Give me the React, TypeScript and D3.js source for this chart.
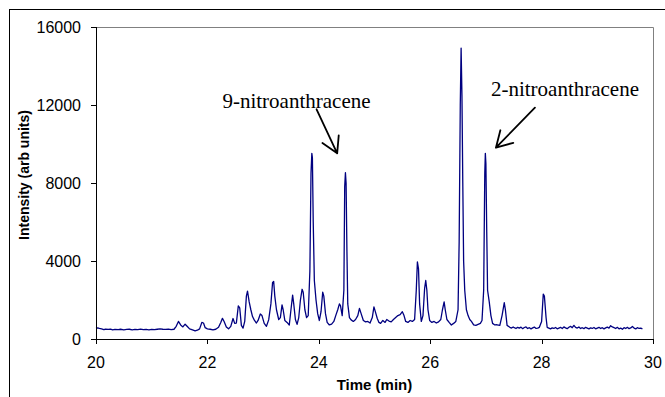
import React from "react";
import * as d3 from "d3";

// Chromatogram: [retention time (min), intensity (arb units)]
const chromatogram: [number, number][] = [
  [20.0, 540], [20.03, 570], [20.06, 540], [20.1, 520], [20.14, 480], [20.17, 500], [20.22, 490],
  [20.26, 510], [20.3, 470], [20.34, 495], [20.4, 480], [20.44, 500], [20.5, 470], [20.55, 490],
  [20.6, 500], [20.65, 470], [20.7, 490], [20.75, 480], [20.8, 505], [20.85, 480], [20.9, 490],
  [20.95, 470], [21.0, 495], [21.05, 480], [21.1, 500], [21.15, 520], [21.2, 500], [21.25, 490],
  [21.3, 510], [21.35, 480], [21.4, 500],
  [21.44, 650], [21.48, 900], [21.52, 720], [21.56, 620], [21.6, 760], [21.64, 640], [21.68, 520],
  [21.72, 480], [21.78, 420], [21.82, 450], [21.86, 520], [21.9, 850], [21.93, 820], [21.96, 580],
  [22.0, 520], [22.05, 500], [22.1, 470], [22.15, 500], [22.2, 600], [22.24, 850], [22.27, 1060],
  [22.3, 900], [22.34, 620], [22.38, 520], [22.42, 650], [22.46, 1050], [22.49, 800], [22.52, 820],
  [22.555, 1700], [22.58, 1600], [22.61, 700], [22.64, 560], [22.67, 900], [22.7, 2200], [22.72, 2450],
  [22.75, 1900], [22.78, 1500], [22.81, 1150], [22.84, 980], [22.88, 820], [22.91, 950], [22.95, 1280],
  [22.98, 1200], [23.02, 800], [23.06, 650], [23.1, 980], [23.14, 1800], [23.17, 2900], [23.19, 2950],
  [23.21, 2200], [23.24, 1500], [23.28, 1000], [23.31, 1100], [23.34, 1750], [23.36, 1500], [23.39, 950],
  [23.43, 850], [23.47, 720], [23.5, 1500], [23.53, 2250], [23.55, 1800], [23.58, 1000], [23.61, 750],
  [23.64, 1100], [23.67, 2000], [23.7, 2550], [23.72, 2400], [23.75, 1500], [23.78, 1100], [23.81, 1200],
  [23.84, 3500], [23.86, 8500], [23.875, 9520], [23.885, 9300], [23.9, 6000], [23.92, 3000], [23.95, 2000],
  [23.98, 1300], [24.01, 950], [24.04, 1400], [24.07, 2400], [24.09, 2200], [24.12, 1300], [24.15, 850],
  [24.19, 720], [24.23, 760], [24.27, 900], [24.31, 1250], [24.34, 1500], [24.37, 1800], [24.39, 1700],
  [24.42, 1200], [24.45, 2500], [24.465, 7800], [24.478, 8530], [24.49, 8000], [24.505, 4500], [24.52, 1800],
  [24.55, 1100], [24.58, 980], [24.62, 900], [24.66, 1000], [24.7, 1200], [24.73, 1570], [24.76, 1300],
  [24.8, 950], [24.84, 880], [24.88, 900], [24.92, 820], [24.96, 1100], [24.99, 1650], [25.02, 1350],
  [25.05, 1050], [25.08, 850], [25.11, 800], [25.15, 950], [25.19, 850], [25.22, 1000], [25.26, 920],
  [25.3, 880], [25.34, 1000], [25.38, 1100], [25.42, 1200], [25.46, 1250], [25.5, 1400], [25.53, 1200],
  [25.56, 900], [25.6, 850], [25.64, 950], [25.68, 900], [25.72, 1000], [25.75, 2500], [25.77, 3950],
  [25.79, 3600], [25.81, 1800], [25.84, 900], [25.87, 1200], [25.9, 2600], [25.92, 3000], [25.94, 2500],
  [25.96, 1500], [25.99, 950], [26.03, 850], [26.07, 900], [26.11, 820], [26.15, 880], [26.19, 1000],
  [26.22, 1500], [26.25, 1900], [26.27, 1500], [26.3, 1000], [26.34, 850], [26.38, 720], [26.42, 800],
  [26.46, 900], [26.5, 1500], [26.52, 5000], [26.54, 12000], [26.555, 14920], [26.57, 12500], [26.585, 8000],
  [26.6, 4000], [26.62, 2500], [26.65, 1500], [26.68, 1200], [26.71, 1000], [26.74, 900], [26.78, 720],
  [26.82, 700], [26.86, 750], [26.9, 800], [26.93, 950], [26.96, 2500], [26.98, 8500], [26.99, 9520],
  [27.0, 9000], [27.015, 5500], [27.03, 2500], [27.06, 1900], [27.09, 1200], [27.12, 800], [27.16, 720],
  [27.2, 730], [27.25, 700], [27.29, 1200], [27.33, 1860], [27.35, 1500], [27.38, 700], [27.41, 640],
  [27.43, 600], [27.46, 560], [27.49, 620], [27.51, 580], [27.54, 540], [27.57, 600], [27.6, 560],
  [27.63, 610], [27.66, 530], [27.69, 590], [27.72, 620], [27.75, 540], [27.78, 580], [27.81, 520],
  [27.84, 570], [27.87, 610], [27.9, 540], [27.93, 560], [27.96, 600], [28.0, 900], [28.03, 2300],
  [28.05, 2200], [28.08, 1100], [28.1, 600], [28.13, 560], [28.16, 520], [28.19, 570], [28.22, 540],
  [28.25, 590], [28.28, 520], [28.31, 560], [28.34, 600], [28.37, 540], [28.4, 620], [28.43, 570],
  [28.46, 530], [28.49, 600], [28.52, 650], [28.55, 580], [28.58, 700], [28.61, 600], [28.64, 560],
  [28.67, 620], [28.7, 540], [28.73, 580], [28.76, 530], [28.79, 600], [28.82, 560], [28.85, 520],
  [28.88, 570], [28.91, 540], [28.94, 590], [28.97, 520], [29.0, 560], [29.03, 600], [29.06, 540],
  [29.09, 580], [29.12, 520], [29.15, 570], [29.18, 610], [29.21, 560], [29.24, 680], [29.27, 620],
  [29.3, 580], [29.33, 540], [29.36, 600], [29.39, 520], [29.42, 560], [29.45, 500], [29.48, 580],
  [29.51, 540], [29.54, 600], [29.57, 530], [29.6, 570], [29.63, 640], [29.66, 560], [29.69, 520],
  [29.72, 580], [29.75, 540], [29.78, 560], [29.81, 520],
];

const xTicks = [20, 22, 24, 26, 28, 30];
const yTicks = [0, 4000, 8000, 12000, 16000];

// Annotation labels: text anchor and arrow (start -> tip) in data units
const annotationLabels = ["9-nitroanthracene", "2-nitroanthracene"];
const annotationTextPos: [number, number][] = [[22.27, 11830], [27.09, 12460]];
const annotationArrowFrom: [number, number][] = [[23.96, 11780], [27.88, 11860]];
const annotationArrowTo: [number, number][] = [[24.33, 9520], [27.18, 9810]];

const W = 665;
const H = 397;
const M = { left: 96, right: 653, top: 27, bottom: 339 };

export default function App() {
  const x = d3.scaleLinear().domain([20, 30]).range([M.left, M.right]);
  const y = d3.scaleLinear().domain([0, 16000]).range([M.bottom, M.top]);
  const line = d3
    .line<[number, number]>()
    .x((d) => x(d[0]))
    .y((d) => y(d[1]));

  const headLen = 18;
  const headAng = Math.PI / 6;

  return (
    <svg
      width={W}
      height={H}
      style={{ position: "absolute", left: 0, top: 0, background: "#fff" }}
    >
      <rect x={0} y={0} width={W} height={H} fill="#fff" />
      {/* outer chart frame */}
      <rect x={9.5} y={9.5} width={W + 20} height={H + 20} fill="none" stroke="#000" strokeWidth={1} />
      {/* plot area border (top/right) */}
      <path
        d={`M${M.left},${M.top + 0.5}H${M.right + 0.5}V${M.bottom}`}
        fill="none"
        stroke="#808080"
        strokeWidth={1}
      />
      {/* trace */}
      <path d={line(chromatogram) || ""} fill="none" stroke="#000080" strokeWidth={1.3} strokeLinejoin="round" />
      {/* axes */}
      <line x1={M.left + 0.5} x2={M.left + 0.5} y1={M.top} y2={M.bottom} stroke="#000" />
      <line x1={M.left} x2={M.right + 1} y1={M.bottom + 0.5} y2={M.bottom + 0.5} stroke="#000" />
      {yTicks.map((t) => (
        <g key={"y" + t}>
          <line x1={M.left - 5} x2={M.left} y1={Math.round(y(t)) + 0.5} y2={Math.round(y(t)) + 0.5} stroke="#000" />
          <text
            x={M.left - 15}
            y={y(t)}
            dy="0.36em"
            textAnchor="end"
            fontFamily="Liberation Sans, Arial, sans-serif"
            fontSize={16}
            fill="#000"
          >
            {t}
          </text>
        </g>
      ))}
      {xTicks.map((t) => (
        <g key={"x" + t}>
          <line x1={Math.round(x(t)) + 0.5} x2={Math.round(x(t)) + 0.5} y1={M.bottom} y2={M.bottom + 5} stroke="#000" />
          <text
            x={x(t)}
            y={368}
            textAnchor="middle"
            fontFamily="Liberation Sans, Arial, sans-serif"
            fontSize={16}
            fill="#000"
          >
            {t}
          </text>
        </g>
      ))}
      <text
        x={(M.left + M.right) / 2}
        y={390}
        textAnchor="middle"
        fontFamily="Liberation Sans, Arial, sans-serif"
        fontWeight="bold"
        fontSize={15}
        fill="#000"
      >
        Time (min)
      </text>
      <text
        transform={`translate(29,${(M.top + M.bottom) / 2 - 8}) rotate(-90)`}
        textAnchor="middle"
        fontFamily="Liberation Sans, Arial, sans-serif"
        fontWeight="bold"
        fontSize={14}
        fill="#000"
      >
        Intensity (arb units)
      </text>
      {/* annotations */}
      {annotationLabels.map((label, i) => {
        const [tx, ty] = annotationTextPos[i];
        const x1 = x(annotationArrowFrom[i][0]);
        const y1 = y(annotationArrowFrom[i][1]);
        const x2 = x(annotationArrowTo[i][0]);
        const y2 = y(annotationArrowTo[i][1]);
        const a = Math.atan2(y1 - y2, x1 - x2);
        const h1x = x2 + headLen * Math.cos(a + headAng);
        const h1y = y2 + headLen * Math.sin(a + headAng);
        const h2x = x2 + headLen * Math.cos(a - headAng);
        const h2y = y2 + headLen * Math.sin(a - headAng);
        return (
          <g key={label}>
            <text
              x={x(tx)}
              y={y(ty)}
              fontFamily="Liberation Serif, Times New Roman, serif"
              fontSize={21}
              fill="#000"
            >
              {label}
            </text>
            <path
              d={`M${x1},${y1}L${x2},${y2}M${h1x},${h1y}L${x2},${y2}L${h2x},${h2y}`}
              fill="none"
              stroke="#000"
              strokeWidth={1.8}
              strokeLinecap="round"
              strokeLinejoin="round"
            />
          </g>
        );
      })}
    </svg>
  );
}
